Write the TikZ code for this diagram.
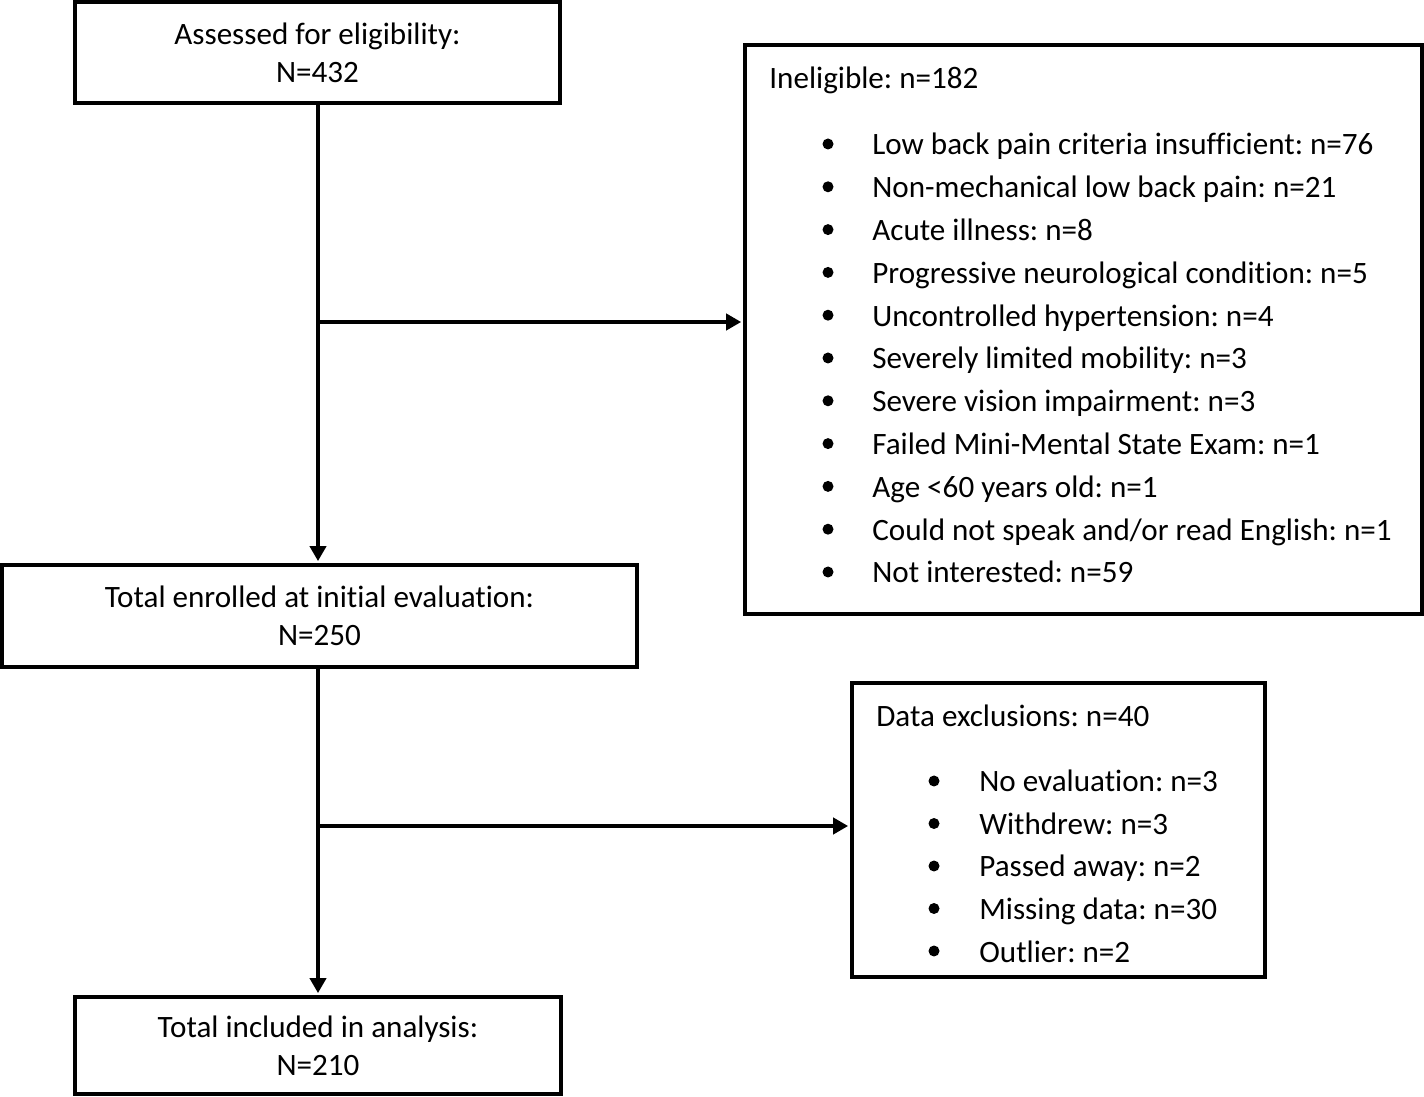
\documentclass[tikz,border=0pt]{standalone}
\usepackage{fontspec}
\setmainfont{Carlito}[Ligatures=NoCommon]
\frenchspacing
\usetikzlibrary{shapes,arrows.meta}
\tikzstyle{box} = [rectangle, draw, line width=2.2pt, align=center, inner sep=0pt]
\tikzstyle{line} = [draw, line width=2.2pt, -{Triangle[length=0.3cm,width=0.32cm]}, shorten >=1.1pt]
\tikzstyle{item} = [anchor=base west, inner sep=0pt]
\tikzstyle{dot} = [circle, fill=black, inner sep=0pt, minimum size=0.22cm]

\begin{document}
\begin{tikzpicture}[x=0.02cm, y=-0.02cm, font=\fontsize{17.7pt}{21.5pt}\selectfont]
  \useasboundingbox (0,0) rectangle (1424,1097);
      \node [box, minimum width=9.7cm, minimum height=2.02cm] (assess) at (317.5,52.5) {Assessed for eligibility:\\N=432};
      \node [box, minimum width=12.7cm, minimum height=2.04cm] (enrol) at (319.5,616) {Total enrolled at initial evaluation:\\N=250};
      \node [box, minimum width=9.72cm, minimum height=1.94cm] (incl) at (318,1045.5) {Total included in analysis:\\N=210};

      % exclusion boxes
      \node [box, minimum width=13.54cm, minimum height=11.38cm] (inelig) at (1083.5,329.5) {};
      \node [item] (ineligtitle) at (769,89) {Ineligible: n=182};
      \foreach \txt [count=\k] in {Low back pain criteria insufficient: n=76,
        Non-mechanical low back pain: n=21, Acute illness: n=8,
        Progressive neurological condition: n=5, Uncontrolled hypertension: n=4,
        Severely limited mobility: n=3, Severe vision impairment: n=3,
        Failed Mini-Mental State Exam: n=1, Age <60 years old: n=1,
        Could not speak and/or read English: n=1, Not interested: n=59}{
        \node [dot] (ineligdot\k) at (828,101.2+42.8*\k) {};
        \node [item] (ineligitem\k) at (872,112.2+42.8*\k) {\txt};
      }

      \node [box, minimum width=8.26cm, minimum height=5.88cm] (dataex) at (1058.5,830) {};
      \node [item] (dataextitle) at (876,727) {Data exclusions: n=40};
      \foreach \txt [count=\k] in {No evaluation: n=3, Withdrew: n=3,
        Passed away: n=2, Missing data: n=30, Outlier: n=2}{
        \node [dot] (dataexdot\k) at (934,738.5+42.5*\k) {};
        \node [item] (dataexitem\k) at (979,749.5+42.5*\k) {\txt};
      }

      \coordinate (split1) at (318,322);
      \coordinate (split2) at (318,826);
      \path [line] (assess.south -| split1) -- (split1 |- enrol.north);
      \path [line] (split1) -- (split1 -| inelig.west);
      \path [line] (enrol.south -| split2) -- (split2 |- incl.north);
      \path [line] (split2) -- (split2 -| dataex.west);
\end{tikzpicture}
\end{document}
